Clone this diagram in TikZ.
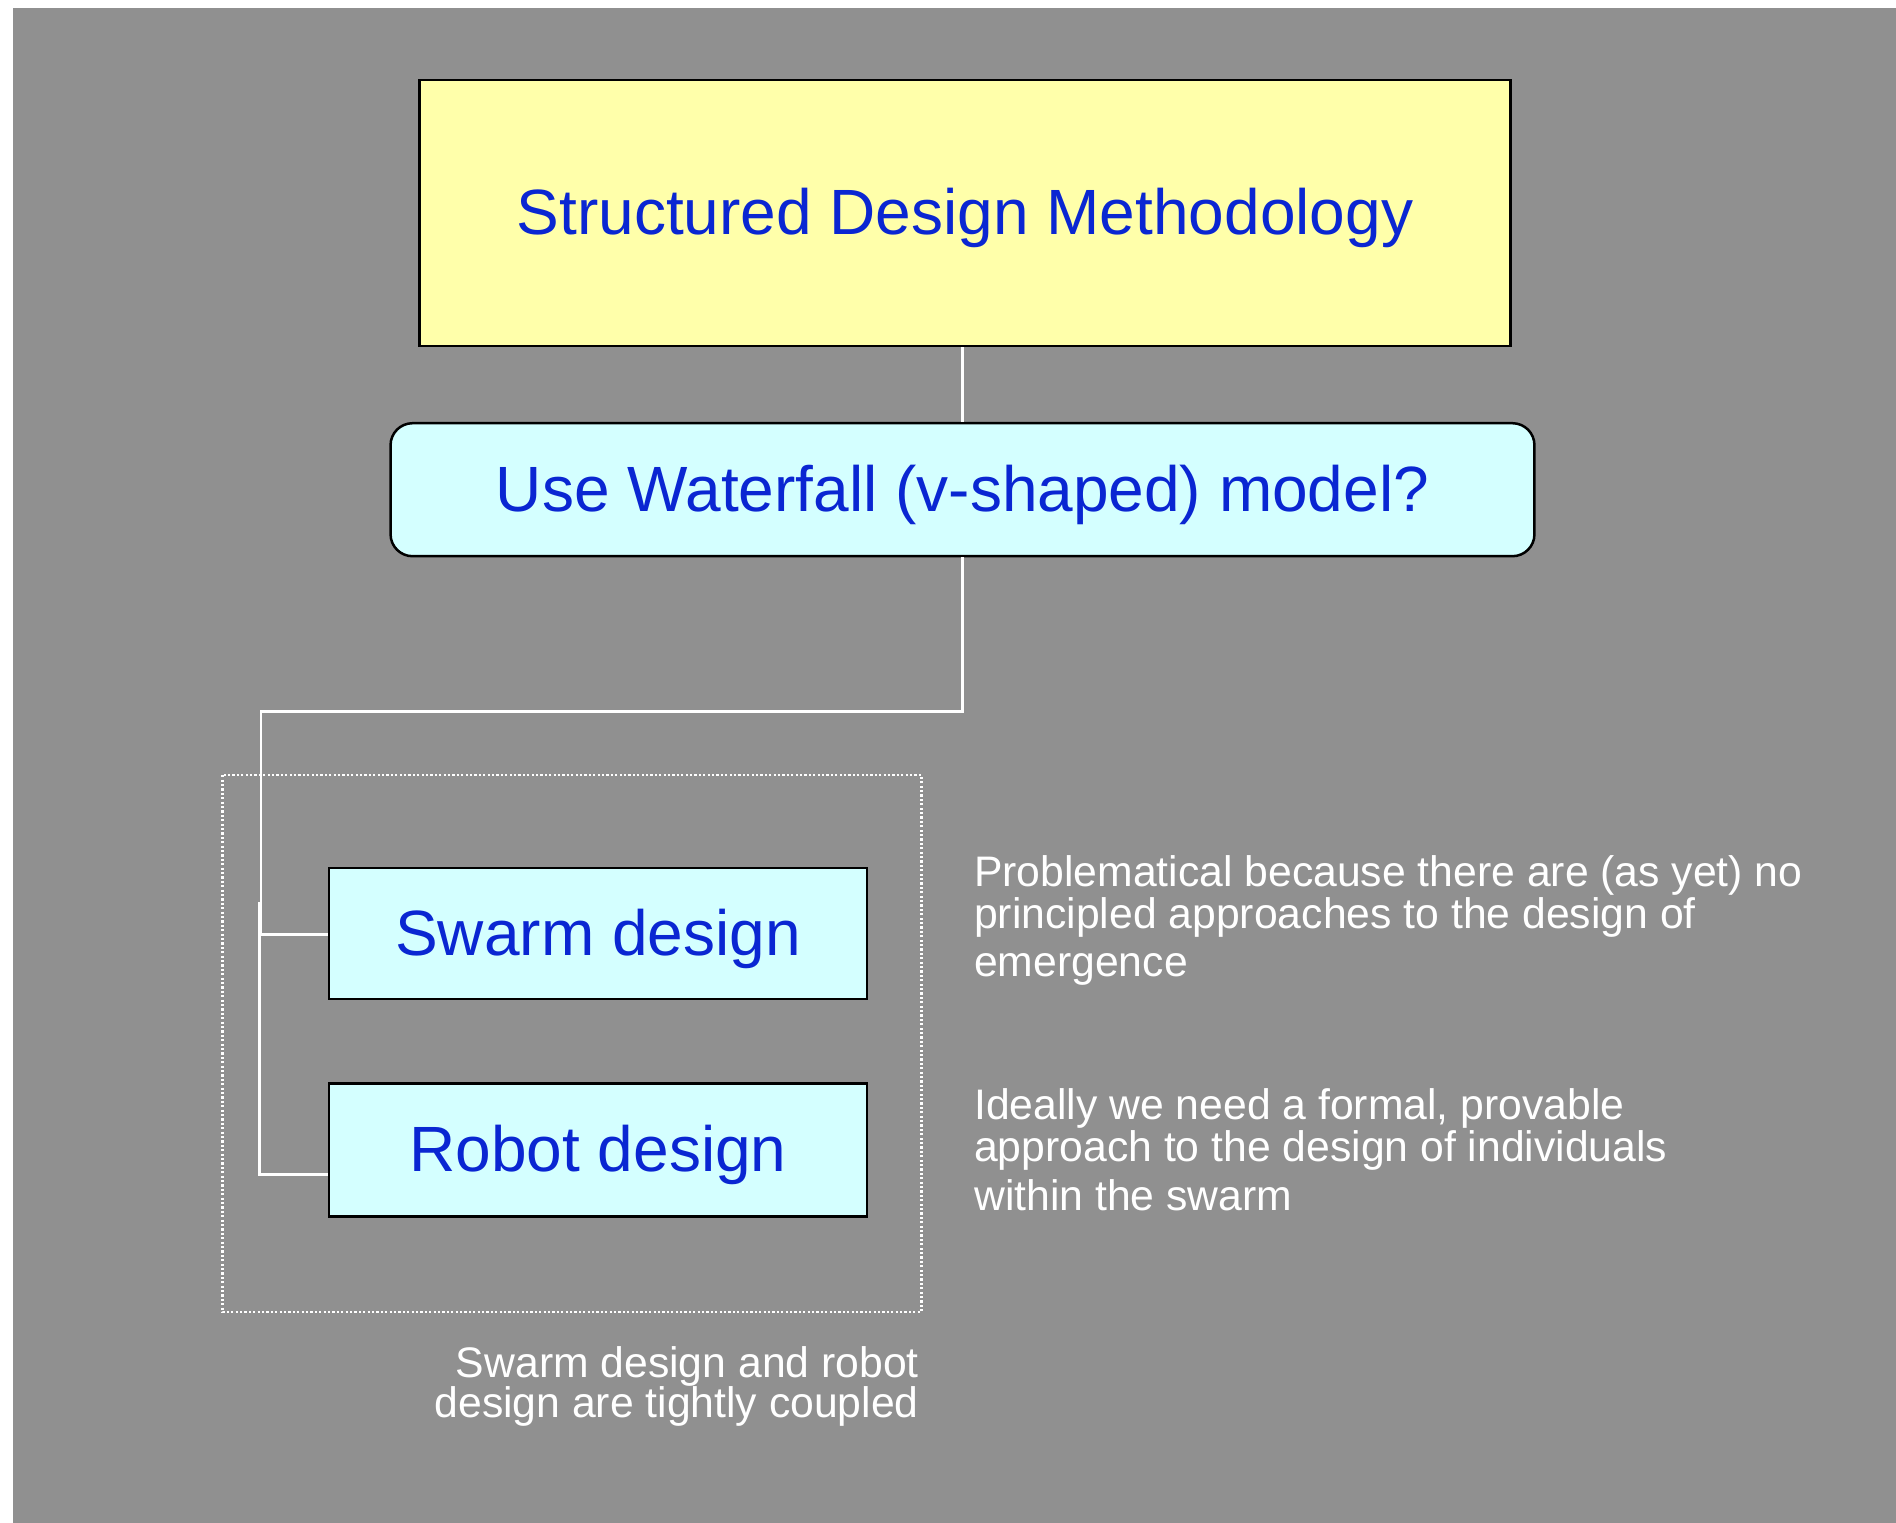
\documentclass[tikz,border=0pt]{standalone}
\usepackage{fontspec}
\setmainfont{Liberation Sans}
\definecolor{slidegrey}{RGB}{144,144,144}
\definecolor{paleyellow}{RGB}{255,255,170}
\definecolor{palecyan}{RGB}{212,255,255}
\definecolor{deepblue}{RGB}{10,38,210}
\tikzset{
  boxtext/.style={font=\fontsize{64}{76}\selectfont, text=deepblue,
    text height=46pt, text depth=3pt, inner sep=0pt, draw=black, line width=2.5pt},
  titlebox/.style={boxtext, fill=paleyellow},
  questionbox/.style={boxtext, fill=palecyan, rounded corners=22pt},
  itembox/.style={boxtext, fill=palecyan},
  conn/.style={draw=white, line width=2.6pt},
  groupframe/.style={draw=white, line width=2.2pt, dash pattern=on 2.2pt off 2.2pt},
  note/.style={font=\fontsize{42.7}{46}\selectfont, text=white, inner sep=0pt}
}
\begin{document}
\begin{tikzpicture}[x=1pt, y=-1pt]
\useasboundingbox (0,0) rectangle (1896,1523);
% slide background
\fill[slidegrey] (13,8) rectangle (1896,1523);

% boxes
\node[titlebox, minimum width=1090.7pt, minimum height=266pt] (sdm) at (965,212.8) {Structured Design Methodology};
\node[questionbox, minimum width=1143.9pt, minimum height=133pt] (wf) at (962.5,489.7) {Use Waterfall (v-shaped) model?};
\node[itembox, minimum width=538.1pt, minimum height=130.6pt] (swarm) at (598,933.5) {Swarm design};
\node[itembox, minimum width=538.1pt, minimum height=133.1pt] (robot) at (598,1150) {Robot design};

% dotted grouping frame
\draw[groupframe] (222.5,775.1) rectangle (921.4,1312);

% connectors
\coordinate (bend) at (261,711.7);
\coordinate (split) at (259.3,901.7);
\coordinate (swarmjoin) at ([yshift=-1.2pt]swarm.west);
\coordinate (robotjoin) at ([yshift=-24.3pt]robot.west);
\draw[conn] (wf.north |- sdm.south) -- (wf.north);
\draw[conn] (wf.south) |- (bend) -- (bend |- swarmjoin) -- (swarmjoin);
\draw[conn] (split) |- (robotjoin);

% side notes
\node[note, anchor=base west] (n1a) at (974,886.7) {Problematical because there are (as yet) no};
\node[note, anchor=base west] (n1b) at (974,928.5) {principled approaches to the design of};
\node[note, anchor=base west] (n1c) at (974,976.7) {emergence};
\node[note, anchor=base west] (n2a) at (974,1119.3) {Ideally we need a formal, provable};
\node[note, anchor=base west] (n2b) at (974,1161.7) {approach to the design of individuals};
\node[note, anchor=base west] (n2c) at (974,1210) {within the swarm};
\node[note, font=\fontsize{42.7}{38.3}\selectfont, align=right, anchor=north east]
  (n3) at (919,1346) {Swarm design and robot\\design are tightly coupled};
\end{tikzpicture}
\end{document}
